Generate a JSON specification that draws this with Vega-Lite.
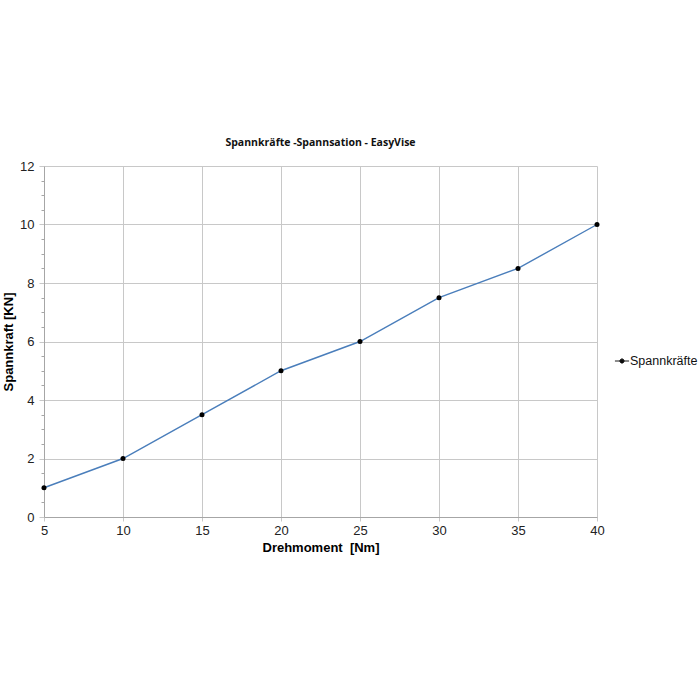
{
  "$schema": "https://vega.github.io/schema/vega-lite/v6.json",
  "autosize": "none",
  "width": 553,
  "height": 351,
  "padding": {"left": 44, "top": 166, "right": 103, "bottom": 183},
  "background": "white",
  "title": {
    "text": "Spannkräfte -Spannsation - EasyVise",
    "font": "Open Sans",
    "fontSize": 10.5,
    "fontWeight": "bold",
    "color": "#111111",
    "offset": 12,
    "anchor": "middle"
  },
  "config": {
    "view": {"stroke": null},
    "font": "Liberation Sans"
  },
  "data": {
    "values": [
      {"Drehmoment": 5, "Spannkraft": 1, "Serie": "Spannkräfte"},
      {"Drehmoment": 10, "Spannkraft": 2, "Serie": "Spannkräfte"},
      {"Drehmoment": 15, "Spannkraft": 3.5, "Serie": "Spannkräfte"},
      {"Drehmoment": 20, "Spannkraft": 5, "Serie": "Spannkräfte"},
      {"Drehmoment": 25, "Spannkraft": 6, "Serie": "Spannkräfte"},
      {"Drehmoment": 30, "Spannkraft": 7.5, "Serie": "Spannkräfte"},
      {"Drehmoment": 35, "Spannkraft": 8.5, "Serie": "Spannkräfte"},
      {"Drehmoment": 40, "Spannkraft": 10, "Serie": "Spannkräfte"}
    ]
  },
  "resolve": {"axis": {"y": "independent"}},
  "layer": [
    {
      "mark": {"type": "line", "color": "#4a7ebb", "strokeWidth": 1.4},
      "encoding": {
        "x": {
          "field": "Drehmoment", "type": "quantitative",
          "scale": {"domain": [5, 40], "nice": false, "zero": false},
          "axis": {
            "values": [5, 10, 15, 20, 25, 30, 35, 40],
            "title": "Drehmoment\u00a0 [Nm]",
            "titleFont": "Liberation Sans", "titleFontSize": 13, "titleFontWeight": "bold", "titleColor": "#000000",
            "titlePadding": 4,
            "labelFont": "Liberation Sans", "labelFontSize": 13, "labelColor": "#222222", "labelPadding": 3,
            "labelFlush": false,
            "grid": true, "gridColor": "#c8c8c8",
            "domainColor": "#a6a6a6", "tickColor": "#c8c8c8", "tickSize": 4
          }
        },
        "y": {
          "field": "Spannkraft", "type": "quantitative",
          "scale": {"domain": [0, 12], "nice": false},
          "axis": {
            "orient": "left",
            "offset": 0,
            "values": [0, 2, 4, 6, 8, 10, 12],
            "title": "Spannkraft [KN]",
            "titleFont": "Liberation Sans", "titleFontSize": 13, "titleFontWeight": "bold", "titleColor": "#000000",
            "titlePadding": 4,
            "labelFont": "Liberation Sans", "labelFontSize": 13, "labelColor": "#222222", "labelPadding": 5,
            "grid": true, "gridColor": "#c8c8c8",
            "domainColor": "#a6a6a6", "tickColor": "#c8c8c8", "tickSize": 5
          }
        }
      }
    },
    {
      "mark": {"type": "point", "filled": true, "size": 25, "opacity": 1},
      "encoding": {
        "x": {"field": "Drehmoment", "type": "quantitative"},
        "y": {
          "field": "Spannkraft", "type": "quantitative",
          "axis": {
            "orient": "left",
            "offset": 0,
            "values": [0.5, 1, 1.5, 2.5, 3, 3.5, 4.5, 5, 5.5, 6.5, 7, 7.5, 8.5, 9, 9.5, 10.5, 11, 11.5],
            "labels": false, "grid": false, "domain": false, "title": null,
            "tickSize": 3, "tickColor": "#a6a6a6"
          }
        },
        "color": {
          "field": "Serie", "type": "nominal",
          "scale": {"range": ["#000000"]},
          "legend": {
            "title": null,
            "orient": "none",
            "legendX": 570,
            "legendY": 187,
            "symbolType": "M -1 0 L 1 0 M -0.3 0 A 0.3 0.3 0 1 0 0.3 0 A 0.3 0.3 0 1 0 -0.3 0",
            "symbolSize": 200,
            "symbolStrokeColor": "#1a1a1a",
            "symbolStrokeWidth": 1,
            "symbolFillColor": "#000000",
            "symbolOpacity": 1,
            "labelFont": "Liberation Sans", "labelFontSize": 12.5, "labelColor": "#111111", "labelOffset": 0,
            "encode": {
              "symbols": {"update": {"stroke": {"value": "#1a1a1a"}, "strokeWidth": {"value": 1}, "fill": {"value": "#000000"}, "opacity": {"value": 1}}}
            }
          }
        }
      }
    }
  ]
}
